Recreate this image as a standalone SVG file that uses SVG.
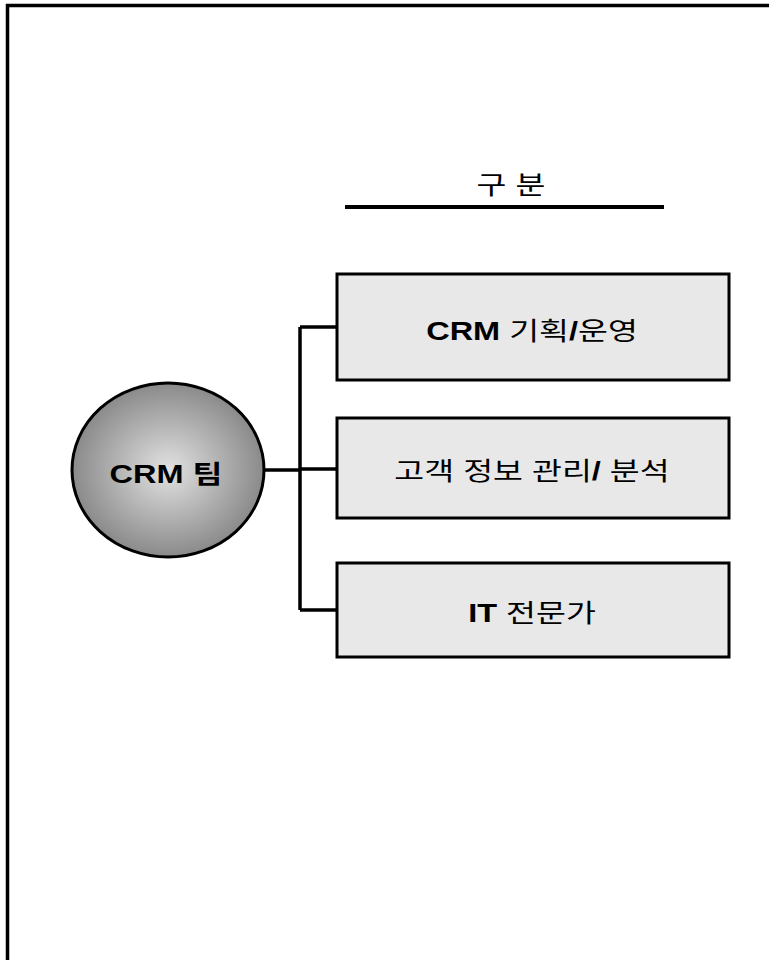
<svg xmlns="http://www.w3.org/2000/svg" width="769" height="960" viewBox="0 0 769 960">
<defs>
<radialGradient id="g" cx="50%" cy="50%" r="50%">
<stop offset="0" stop-color="#e2e2e2"/>
<stop offset="1" stop-color="#8a8a8a"/>
</radialGradient>
<style>
.t{font-family:"Liberation Sans","Noto Sans CJK KR",sans-serif;font-size:25px;fill:#000;text-anchor:middle}
.b{font-weight:bold}
.box{fill:#e8e8e8;stroke:#000;stroke-width:3}
.ln{stroke:#000;stroke-width:3.5;fill:none}
</style>
</defs>
<rect width="769" height="960" fill="#fff"/>
<g id="frame"><path class="ln" d="M7.5,960 V5.5 H769"/></g>
<g id="header">
<text class="t" transform="translate(511,194) scale(1.3,1)">구 분</text>
<line x1="345" y1="207" x2="664" y2="207" stroke="#000" stroke-width="4"/>
</g>
<g id="connectors">
<path class="ln" d="M264,470 H300 M300,327 V610 M300,327 H337 M300,469 H337 M300,610 H337"/>
</g>
<g id="team">
<ellipse cx="168" cy="470" rx="96" ry="87" fill="url(#g)" stroke="#000" stroke-width="3"/>
<text class="t b" transform="translate(166,483) scale(1.3,1)">CRM 팀</text>
</g>
<g id="n1">
<rect class="box" x="337" y="274" width="392" height="106"/>
<text class="t" transform="translate(532,340) scale(1.3,1)"><tspan class="b">CRM</tspan> 기획<tspan class="b">/</tspan>운영</text>
</g>
<g id="n2">
<rect class="box" x="337" y="418" width="392" height="100"/>
<text class="t" transform="translate(532,480) scale(1.3,1)">고객 정보 관리<tspan class="b">/</tspan> 분석</text>
</g>
<g id="n3">
<rect class="box" x="337" y="563" width="392" height="94"/>
<text class="t" transform="translate(532,622) scale(1.3,1)"><tspan class="b">IT</tspan> 전문가</text>
</g>
</svg>
